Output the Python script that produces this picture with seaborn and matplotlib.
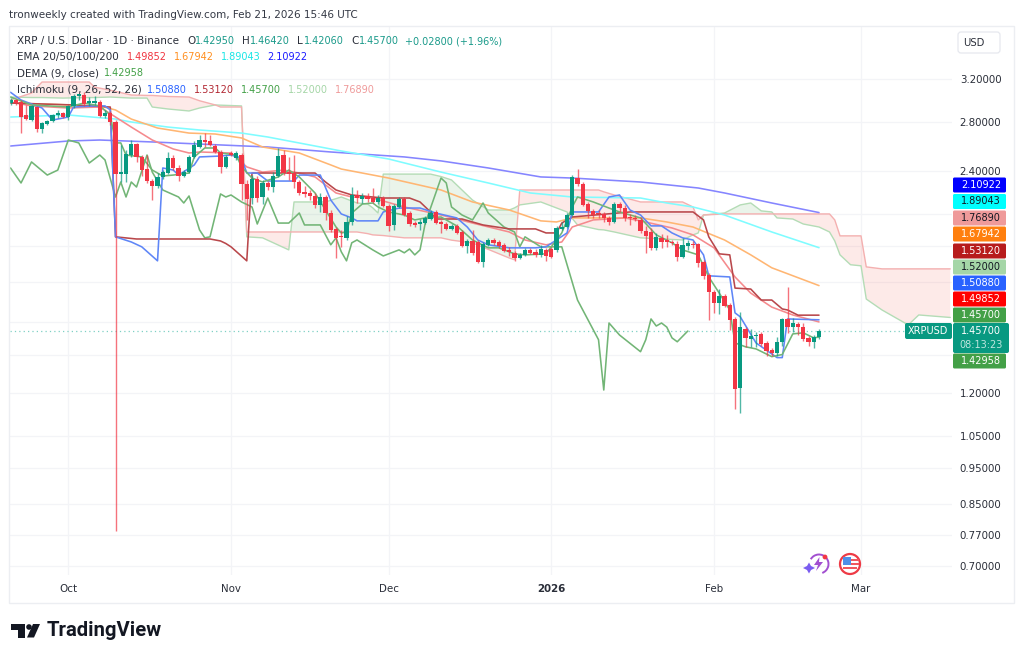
import pandas as pd
import numpy as np
import matplotlib
matplotlib.use("Agg")
import matplotlib.pyplot as plt
import matplotlib.patches as mpatches
import seaborn as sns

# daily XRPUSD candles, first day 2025-09-20
open_p = [2.969,2.997,2.978,2.860,2.815,2.932,2.737,2.780,2.806,2.860,
          2.878,2.842,2.942,3.035,3.044,2.969,2.969,2.978,2.851,2.878,
          2.798,2.378,2.378,2.524,2.612,2.509,2.416,2.327,2.291,2.357,
          2.386,2.501,2.424,2.364,2.393,2.509,2.588,2.645,2.637,2.596,
          2.548,2.432,2.540,2.501,2.524,2.306,2.207,2.342,2.214,2.313,
          2.284,2.364,2.524,2.393,2.386,2.320,2.249,2.242,2.221,2.160,
          2.214,2.106,2.004,1.961,1.949,2.048,2.228,2.200,2.221,2.207,
          2.180,2.207,2.153,2.029,2.146,2.200,2.106,2.041,2.035,2.041,
          2.067,2.113,2.048,2.035,2.004,2.023,1.985,1.901,1.930,1.924,
          1.809,1.907,1.936,1.924,1.907,1.877,1.860,1.831,1.848,1.877,
          1.866,1.848,1.877,1.882,1.877,2.004,2.016,2.093,2.349,2.306,
          2.166,2.120,2.106,2.100,2.074,2.048,2.166,2.139,2.080,2.074,
          2.061,1.992,1.985,1.889,1.949,1.936,1.924,1.913,1.836,1.901,
          1.913,1.913,1.809,1.736,1.646,1.590,1.625,1.580,1.513,1.220,
          1.466,1.421,1.435,1.444,1.404,1.374,1.362,1.409,1.513,1.475,
          1.490,1.475,1.426,1.409,1.4295]
high_p = [3.016,3.006,2.997,2.951,2.951,2.942,2.798,2.815,2.869,2.905,
          2.887,2.951,3.054,3.054,3.073,3.025,3.035,2.997,2.905,2.896,
          2.815,2.604,2.564,2.645,2.621,2.524,2.524,2.342,2.386,2.408,
          2.548,2.524,2.447,2.408,2.524,2.637,2.687,2.703,2.687,2.612,
          2.564,2.524,2.556,2.556,2.540,2.335,2.371,2.364,2.335,2.327,
          2.393,2.580,2.564,2.509,2.524,2.335,2.291,2.263,2.242,2.242,
          2.228,2.126,2.016,1.998,2.087,2.284,2.263,2.242,2.242,2.277,
          2.228,2.221,2.166,2.166,2.214,2.214,2.120,2.055,2.067,2.087,
          2.126,2.126,2.061,2.048,2.035,2.035,1.998,1.942,1.998,1.936,
          1.924,1.949,1.949,1.936,1.918,1.895,1.871,1.860,1.889,1.889,
          1.882,1.907,1.889,1.895,2.023,2.048,2.106,2.371,2.416,2.320,
          2.180,2.132,2.126,2.113,2.087,2.180,2.180,2.160,2.100,2.093,
          2.080,2.023,2.010,1.979,1.973,1.967,1.936,1.930,1.949,1.936,
          1.930,1.918,1.820,1.747,1.656,1.661,1.635,1.590,1.523,1.546,
          1.475,1.466,1.453,1.453,1.413,1.383,1.430,1.518,1.672,1.518,
          1.499,1.494,1.435,1.440,1.4642]
low_p = [2.951,2.951,2.703,2.815,2.806,2.712,2.703,2.772,2.798,2.833,
         2.833,2.815,2.923,2.997,2.942,2.942,2.951,2.842,2.833,2.772,
         0.780,2.320,2.320,2.509,2.470,2.364,2.313,2.193,2.277,2.342,
         2.378,2.408,2.327,2.357,2.386,2.501,2.580,2.588,2.596,2.540,
         2.386,2.424,2.516,2.485,2.193,2.061,2.166,2.180,2.166,2.263,
         2.249,2.357,2.371,2.335,2.277,2.228,2.214,2.193,2.139,2.113,
         2.061,1.985,1.831,1.895,1.936,2.029,2.173,2.173,2.180,2.173,
         2.166,2.146,1.992,1.998,2.139,2.087,2.023,2.016,1.998,2.035,
         2.061,2.035,1.979,1.998,1.998,1.973,1.895,1.860,1.848,1.803,
         1.780,1.901,1.907,1.889,1.866,1.842,1.814,1.825,1.842,1.854,
         1.836,1.836,1.814,1.831,1.866,1.998,2.010,2.087,2.291,2.153,
         2.074,2.074,2.074,2.048,2.029,2.041,2.113,2.055,2.029,2.055,
         1.979,1.860,1.877,1.877,1.889,1.895,1.907,1.814,1.831,1.877,
         1.889,1.780,1.714,1.508,1.542,1.537,1.570,1.462,1.142,1.128,
         1.387,1.387,1.387,1.391,1.349,1.349,1.349,1.391,1.449,1.453,
         1.440,1.413,1.391,1.383,1.4206]
close_p = [2.997,2.969,2.842,2.824,2.942,2.737,2.789,2.806,2.860,2.878,
           2.842,2.942,3.035,3.054,2.960,2.988,2.988,2.851,2.878,2.798,
           2.378,2.393,2.532,2.612,2.509,2.408,2.327,2.291,2.357,2.393,
           2.501,2.424,2.364,2.393,2.509,2.604,2.645,2.629,2.604,2.548,
           2.432,2.509,2.524,2.540,2.306,2.200,2.342,2.207,2.313,2.284,
           2.364,2.516,2.386,2.378,2.320,2.242,2.235,2.221,2.160,2.214,
           2.106,1.998,1.949,1.955,2.048,2.228,2.207,2.221,2.200,2.180,
           2.207,2.153,2.023,2.153,2.200,2.093,2.035,2.029,2.048,2.074,
           2.106,2.041,2.035,2.004,2.023,1.979,1.901,1.930,1.860,1.809,
           1.913,1.936,1.918,1.901,1.871,1.866,1.831,1.848,1.877,1.860,
           1.848,1.882,1.842,1.836,2.010,2.016,2.093,2.357,2.306,2.160,
           2.120,2.093,2.100,2.074,2.048,2.166,2.139,2.074,2.074,2.067,
           1.992,1.961,1.889,1.955,1.924,1.924,1.918,1.836,1.907,1.918,
           1.907,1.803,1.731,1.646,1.590,1.625,1.575,1.508,1.216,1.475,
           1.426,1.435,1.440,1.400,1.370,1.362,1.409,1.513,1.475,1.494,
           1.475,1.421,1.409,1.430,1.457]

# indicator lines, read at the days listed next to them
ema200_days = [0,11,17,27,36,49,61,75,82,91,101,107,120,131,136,145,154]
ema200 = [2.596,2.637,2.645,2.629,2.612,2.588,2.548,2.509,2.478,2.424,2.357,2.349,2.320,2.277,2.242,2.173,2.109]
ema100_days = [0,11,20,23,30,36,44,49,63,72,82,91,99,107,120,125,130,136,145,154]
ema100 = [2.842,2.860,2.824,2.798,2.754,2.729,2.703,2.670,2.556,2.493,2.393,2.313,2.242,2.214,2.207,2.173,2.146,2.093,1.985,1.890]
ema50_days = [0,17,20,23,28,34,39,44,48,55,61,63,72,82,88,95,101,104,107,114,120,125,130,136,141,145,154]
ema50 = [2.969,2.942,2.905,2.824,2.746,2.703,2.695,2.662,2.588,2.540,2.447,2.416,2.349,2.263,2.180,2.126,2.055,2.048,2.074,2.074,2.074,2.048,2.016,1.936,1.848,1.775,1.679]
ema20_days = [0,4,11,17,20,23,27,31,34,36,42,45,48,52,55,58,62,65,69,75,82,88,95,98,102,105,107,111,117,120,126,130,134,138,141,145,149,154]
ema20 = [2.978,2.942,2.923,2.932,2.842,2.754,2.645,2.572,2.540,2.548,2.540,2.432,2.393,2.408,2.386,2.357,2.242,2.214,2.207,2.146,2.093,2.041,1.985,1.936,1.907,1.924,2.016,2.061,2.074,2.055,2.010,1.967,1.889,1.725,1.640,1.570,1.532,1.499]
dema_days = [0,4,11,14,17,19,20,21,22,25,27,29,31,34,35,37,39,40,43,44,46,48,51,53,55,58,60,62,63,64,65,67,69,70,72,75,77,79,82,85,88,91,93,96,98,102,103,105,107,108,111,114,116,120,123,126,128,131,133,135,137,138,140,142,145,147,149,151,153,154]
dema = [3.025,2.951,2.932,2.969,2.942,2.860,2.621,2.621,2.524,2.509,2.408,2.364,2.371,2.386,2.509,2.580,2.580,2.540,2.524,2.432,2.349,2.320,2.357,2.408,2.357,2.242,2.126,2.016,1.979,1.985,2.106,2.166,2.173,2.146,2.113,2.093,2.061,2.074,2.080,2.023,1.936,1.889,1.889,1.854,1.848,1.854,1.895,1.979,2.146,2.214,2.180,2.139,2.113,2.074,1.967,1.919,1.877,1.848,1.725,1.640,1.556,1.404,1.387,1.378,1.345,1.354,1.444,1.449,1.426,1.430]
tenkan_days = [0,2,6,8,11,12,16,18,19,20,23,25,28,29,31,32,35,36,40,42,44,45,47,49,54,55,59,61,63,65,66,70,71,74,78,81,85,87,89,91,95,100,102,106,107,112,114,116,118,120,122,124,126,128,130,132,133,137,138,139,142,146,147,148,154]
tenkan = [3.070,2.997,2.923,2.815,2.842,2.932,2.942,2.942,2.905,1.955,1.924,1.895,1.814,2.424,2.408,2.371,2.447,2.509,2.516,2.524,2.501,2.386,2.386,2.327,2.327,2.371,2.371,2.193,2.100,2.074,2.055,2.055,2.113,2.139,2.139,2.106,2.074,2.016,1.936,1.907,1.889,1.889,1.895,1.979,2.113,2.113,2.214,2.228,2.126,2.093,2.023,2.023,1.979,1.949,1.936,1.848,1.731,1.725,1.542,1.523,1.404,1.341,1.341,1.513,1.509]
kijun_days = [0,12,19,20,24,38,40,41,42,45,46,58,60,62,65,71,76,78,80,81,86,90,95,100,102,104,105,107,118,130,132,133,135,137,138,141,143,145,147,148,150,154]
kijun = [2.969,2.951,2.932,1.955,1.942,1.942,1.930,1.915,1.895,1.814,2.386,2.386,2.320,2.263,2.228,2.207,2.207,2.180,2.113,2.067,2.067,2.029,2.004,2.004,1.979,1.979,2.041,2.080,2.113,2.113,2.061,1.955,1.854,1.848,1.666,1.661,1.605,1.605,1.561,1.556,1.531,1.531]
lagging_days = [0,2,4,7,9,11,13,15,17,18,20,21,22,23,24,26,27,29,32,33,34,36,37,38,40,41,42,44,46,47,49,51,53,55,56,59,61,62,63,64,65,66,69,71,74,75,76,77,78,79,82,83,84,86,88,90,91,94,96,97,98,101,103,105,108,112,113,114,116,120,121,122,123,124,125,126,127,129]
lagging = [2.424,2.313,2.470,2.371,2.408,2.645,2.621,2.462,2.524,2.485,2.214,2.320,2.214,2.320,2.284,2.524,2.393,2.263,2.214,2.173,2.221,1.998,1.949,1.955,2.235,2.214,2.228,2.180,2.146,2.035,2.207,2.041,2.041,2.106,2.029,2.029,1.907,1.949,1.866,1.814,1.919,1.936,1.877,1.842,1.877,1.860,1.882,1.848,1.877,2.041,2.349,2.313,2.146,2.093,2.061,2.173,2.106,2.016,1.985,1.895,1.955,1.895,1.895,1.895,1.605,1.418,1.212,1.494,1.439,1.366,1.418,1.513,1.480,1.494,1.475,1.426,1.409,1.457]

# ichimoku cloud runs 26 days past the last candle
span_days = [0,4,6,10,15,16,19,23,26,27,30,34,36,39,40,44,45,48,53,54,60,63,66,68,69,70,71,75,80,82,84,88,91,95,96,97,101,106,108,112,113,115,120,128,130,131,132,136,139,141,143,145,146,149,151,154,156,157,158,160,162,163,166,171,173,179]
span_a = [3.025,3.02,3.02,3.015,3.02,3.02,3.025,3.015,3.015,2.932,2.914,2.896,2.923,2.951,2.949,2.942,1.955,1.949,1.877,2.180,2.180,2.214,2.173,2.166,2.14,2.106,2.378,2.378,2.378,2.36,2.335,2.193,2.126,2.126,2.14,2.160,2.180,2.113,2.029,2.00,1.998,1.985,1.949,1.936,1.967,1.979,2.093,2.106,2.160,2.173,2.120,2.113,2.074,2.067,2.035,2.016,1.985,1.93,1.848,1.792,1.786,1.610,1.556,1.485,1.532,1.520]
span_b = [2.997,3.063,3.170,3.170,3.170,3.120,3.09,3.044,3.04,3.04,3.03,3.025,2.99,2.951,2.932,2.932,1.985,1.985,1.985,1.985,1.985,1.985,1.985,1.975,1.967,1.965,1.963,1.949,1.949,1.949,1.935,1.918,1.88,1.83,1.820,2.263,2.263,2.263,2.263,2.263,2.25,2.228,2.180,2.180,2.146,2.061,2.093,2.10,2.10,2.10,2.10,2.100,2.10,2.10,2.10,2.10,2.10,2.061,1.961,1.961,1.961,1.780,1.769,1.769,1.769,1.769]

price_ticks = [3.2,2.8,2.4,2.1,1.9,1.7,1.5,1.35,1.2,1.05,0.95,0.85,0.77,0.70]
price_labels = ["3.20000","2.80000","2.40000","","","","","","1.20000","1.05000","0.95000","0.85000","0.77000","0.70000"]
month_ticks = ["2025-10-01","2025-11-01","2025-12-01","2026-01-01","2026-02-01","2026-03-01"]
month_labels = ["Oct","Nov","Dec","2026","Feb","Mar"]
last_price = 1.457

GREEN = "#089981"
RED = "#F23645"
TEXT = "#2a2e39"
start = pd.Timestamp("2025-09-20")


def to_dates(days):
    return start + pd.to_timedelta(days, unit="D")


sns.set_theme(style="white")
plt.rcParams["font.family"] = ["DejaVu Sans"]

fig = plt.figure(figsize=(10.24, 6.6), dpi=100, facecolor="white")
ax = fig.add_axes([10 / 1024, 1 - 575 / 660, 942 / 1024, 548 / 660])
ax.set_yscale("log")

# cloud
sd = to_dates(span_days)
a = np.array(span_a)
b = np.array(span_b)
ax.fill_between(sd, a, b, where=a >= b, interpolate=True, color="#43A047", alpha=0.11, lw=0, zorder=1)
ax.fill_between(sd, a, b, where=a <= b, interpolate=True, color="#F44336", alpha=0.11, lw=0, zorder=1)
sns.lineplot(x=sd, y=span_a, ax=ax, color="#b4dcb6", linewidth=1.0, zorder=2, estimator=None, errorbar=None)
sns.lineplot(x=sd, y=span_b, ax=ax, color="#f4b0b0", linewidth=1.0, zorder=2, estimator=None, errorbar=None)

ax.axhline(last_price, color="#7fd0c4", linewidth=0.9, linestyle=(0, (1, 2.5)), zorder=3)

# indicators
lines = [
    (ema200_days, ema200, "#8585ff"),
    (ema100_days, ema100, "#7ffcff"),
    (ema50_days, ema50, "#ffb673"),
    (ema20_days, ema20, "#f58a8d"),
    (lagging_days, lagging, "#72b576"),
    (kijun_days, kijun, "#b9474b"),
    (tenkan_days, tenkan, "#5f86f7"),
    (dema_days, dema, "#72b576"),
]
for d, v, col in lines:
    sns.lineplot(x=to_dates(d), y=v, ax=ax, color=col, linewidth=1.15, zorder=4, estimator=None, errorbar=None)

# candles on top of the lines
days = np.arange(len(close_p))
candles = pd.DataFrame({"date": to_dates(days), "o": open_p, "h": high_p, "l": low_p, "c": close_p})
candles["color"] = np.where(candles["c"] >= candles["o"], GREEN, RED)
ax.vlines(candles["date"], candles["l"], candles["h"], colors=candles["color"], linewidth=1.0, alpha=0.7, zorder=5)
ax.bar(candles["date"], (candles["c"] - candles["o"]).abs(), bottom=candles[["o", "c"]].min(axis=1),
       width=0.82, color=candles["color"], linewidth=0, zorder=6)

ax.set_xlim(start - pd.Timedelta(days=0.1), start + pd.Timedelta(days=179.33))
ax.set_ylim(0.6803, 3.764)
ax.set_xlabel("")
ax.set_ylabel("")
ax.minorticks_off()
ax.yaxis.tick_right()
ax.set_yticks(price_ticks)
ax.set_yticklabels(price_labels, fontsize=7.4, color=TEXT)
ax.set_xticks(pd.to_datetime(month_ticks))
ax.set_xticklabels(month_labels, fontsize=7.4, color=TEXT)
ax.get_xticklabels()[3].set_fontweight("bold")
ax.tick_params(axis="x", length=0, pad=6.5)
ax.tick_params(axis="y", length=0, pad=5.6)
ax.grid(True, color="#f3f4f7", linewidth=0.9)
ax.set_axisbelow(True)
sns.despine(ax=ax, left=True, bottom=True, right=True, top=True)

# overlay in pixel coordinates for the frame, legend and price tags
ov = fig.add_axes([0, 0, 1, 1], facecolor="none", zorder=10)
ov.set_xlim(0, 1024)
ov.set_ylim(660, 0)
ov.axis("off")

ov.add_patch(mpatches.Rectangle((9, 26), 1005, 577, fill=False, edgecolor="#eceef2", linewidth=1.0))
ov.add_patch(mpatches.FancyBboxPatch((958, 32), 42, 21, boxstyle="round,pad=0,rounding_size=3",
                                     fill=False, edgecolor="#e6e8ee", linewidth=0.9))
ov.text(974, 42.5, "USD", fontsize=7.2, color=TEXT, ha="center", va="center")
ov.text(9, 14.5, "tronweekly created with TradingView.com, Feb 21, 2026 15:46 UTC",
        fontsize=7.45, color="#333844", va="center")

LABEL = 7.45
VALUE = 7.0
teal = "#1a9a8a"
legend_rows = [
    (41, [(17, "XRP / U.S. Dollar · 1D · Binance", TEXT), (187, "O", TEXT), (195, "1.42950", teal),
          (242, "H", TEXT), (250, "1.46420", teal), (297, "L", TEXT), (304, "1.42060", teal),
          (351, "C", TEXT), (359, "1.45700", teal), (405, "+0.02800 (+1.96%)", teal)]),
    (57, [(17, "EMA 20/50/100/200", TEXT), (127, "1.49852", "#f0343f"), (174, "1.67942", "#ff8f1f"),
          (221, "1.89043", "#19e6e6"), (267, "2.10922", "#1a1aff")]),
    (73, [(17, "DEMA (9, close)", TEXT), (104, "1.42958", "#43a047")]),
    (90, [(17, "Ichimoku (9, 26, 52, 26)", TEXT), (147, "1.50880", "#2962ff"), (194, "1.53120", "#b22833"),
          (241, "1.45700", "#43a047"), (288, "1.52000", "#a5d6a7"), (335, "1.76890", "#ef9a9a")]),
]
for y, parts in legend_rows:
    for x, s, col in parts:
        ov.text(x, y, s, fontsize=LABEL if col == TEXT else VALUE, color=col, va="center")

# price tags on the scale
tags = [
    (185, "2.10922", "#0000ff", "white"),
    (201.5, "1.89043", "#00ffff", "#131722"),
    (218, "1.76890", "#ef9a9a", "#131722"),
    (234, "1.67942", "#ff7f0e", "white"),
    (251, "1.53120", "#b71c1c", "white"),
    (267, "1.52000", "#a5d6a7", "#131722"),
    (283, "1.50880", "#2962ff", "white"),
    (299, "1.49852", "#ff0000", "white"),
    (315, "1.45700", "#43a047", "white"),
    (361, "1.42958", "#43a047", "white"),
]
for y, s, bg, fg in tags:
    ov.add_patch(mpatches.FancyBboxPatch((953, y - 7.5), 53, 15, boxstyle="round,pad=0,rounding_size=1.5",
                                         facecolor=bg, edgecolor="none"))
    ov.text(981, y, s, fontsize=7.0, color=fg, ha="center", va="center")

ov.add_patch(mpatches.FancyBboxPatch((953, 323), 56, 30, boxstyle="round,pad=0,rounding_size=2",
                                     facecolor=GREEN, edgecolor="none"))
ov.text(981, 331.5, "1.45700", fontsize=7.0, color="white", ha="center", va="center")
ov.text(981, 345, "08:13:23", fontsize=7.0, color="#bfe6df", ha="center", va="center")
ov.add_patch(mpatches.FancyBboxPatch((905, 323), 47, 16, boxstyle="round,pad=0,rounding_size=2",
                                     facecolor=GREEN, edgecolor="none"))
ov.text(928, 331, "XRPUSD", fontsize=7.0, color="white", ha="center", va="center")

# TradingView logo
ov.add_patch(mpatches.Rectangle((11, 624), 14, 6, color="#131722", lw=0))
ov.add_patch(mpatches.Rectangle((18, 630), 7, 7.5, color="#131722", lw=0))
ov.add_patch(mpatches.Circle((29, 627), 2.8, color="#131722", lw=0))
ov.add_patch(mpatches.Polygon([(33, 624), (40, 624), (34, 637.5), (27, 637.5)], color="#131722", lw=0))
ov.text(46.5, 631, "TradingView", fontsize=14.6, color="#131722", va="center", family="Roboto", fontweight="bold")

# small event icons near the time axis
ov.add_patch(mpatches.Arc((819, 564), 19, 19, theta1=-150, theta2=70, color="#a24fd0", lw=1.4))
ov.add_patch(mpatches.Polygon([(819.5, 557), (814, 565), (818, 565), (816, 571), (823, 562), (819, 562)],
                              color="#a24fd0", lw=0))
ov.add_patch(mpatches.Polygon([(809, 562.5), (811, 566), (815, 568), (811, 570), (809, 573.5), (807, 570), (803, 568), (807, 566)],
                              color="#7a5cf0", lw=0))
ov.add_patch(mpatches.Circle((825, 557), 2.4, color="#f23645", lw=0))
ov.add_patch(mpatches.Circle((850, 564), 10, facecolor="white", edgecolor="#ee3b46", lw=1.6))
ov.add_patch(mpatches.Rectangle((843, 557), 7.5, 7.5, color="#4f8fe8", lw=0))
for fy in (559, 563):
    ov.add_patch(mpatches.Rectangle((851, fy), 7.5, 1.8, color="#f0585f", lw=0))
ov.add_patch(mpatches.Rectangle((843, 566.5), 14, 2.2, color="#f0585f", lw=0))

fig.savefig("out.png", dpi=100)
